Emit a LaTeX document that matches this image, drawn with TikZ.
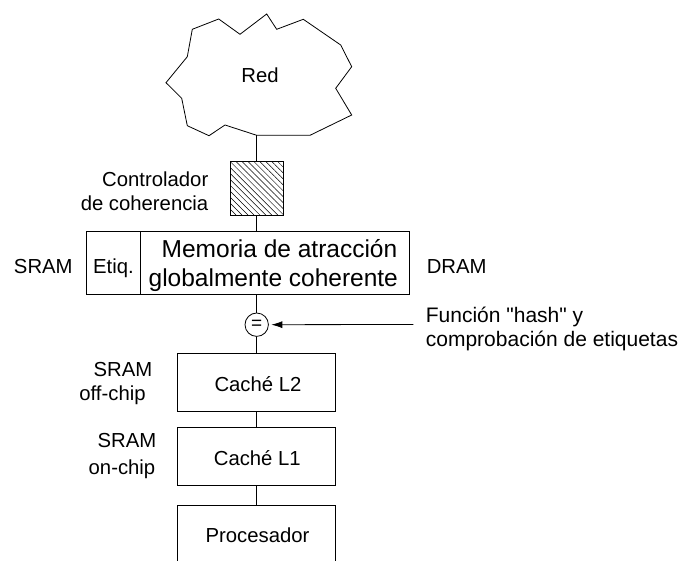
\documentclass[tikz,border=0pt]{standalone}
\usepackage{fontspec}
\setmainfont{Liberation Sans}[Ligatures=TeXOff]
\usetikzlibrary{patterns.meta,arrows.meta}
\begin{document}
\begin{tikzpicture}[x=1pt,y=-1pt,
  lbl/.style={inner sep=0pt,anchor=base,font=\fontsize{20.3}{24}\selectfont},
  biglbl/.style={inner sep=0pt,anchor=base,font=\fontsize{24.5}{28}\selectfont},
  boxy/.style={draw,line width=0.8pt,inner sep=0pt},
  wire/.style={line width=0.8pt}]
\useasboundingbox (0,0) rectangle (680,561);
% cloud
\coordinate (cb) at (256.7,135.3);
\draw[line width=0.8pt,line join=miter]
  (266.7,14) -- (276.7,29.3) -- (303.3,19.3) -- (340.7,45) -- (351.7,66.7)
  -- (335.7,88.3) -- (351.7,115) -- (310,135.3) -- (cb) -- (225,125)
  -- (209,135.7) -- (187.3,125.7) -- (181.7,98.3) -- (166,82.7) -- (187.3,56.7)
  -- (192.3,29.3) -- (218.7,19) -- (240,34.3) -- cycle;
\node[lbl] (red) at (260,83) {Red};
% controller
\node[boxy,minimum width=52.7pt,minimum height=53.3pt,
  pattern={Lines[angle=-45,distance=4.2pt,line width=0.5pt]}] (ctrl) at (256.7,188.5) {};
\node[lbl,anchor=base east] (ctl1) at (208.5,186.5) {Controlador};
\node[lbl,anchor=base east] (ctl2) at (208.5,211) {de coherencia};
% memory
\node[boxy,minimum width=53.3pt,minimum height=62.6pt] (etiq) at (113.3,263) {};
\node[boxy,minimum width=269.3pt,minimum height=62.6pt] (mem) at (274.6,263) {};
\node[lbl] (etiqt) at (113.5,273.5) {Etiq.};
\node[biglbl] (mem1) at (279.5,257.3) {Memoria de atracción};
\node[biglbl] (mem2) at (273.3,286.3) {globalmente coherente};
\node[lbl] (sramL) at (43.3,273.3) {SRAM};
\node[lbl] (dram) at (456.7,273.3) {DRAM};
% comparator
\node[draw,line width=0.8pt,circle,minimum size=23.4pt,inner sep=0pt,
  font=\fontsize{19}{20}\selectfont] (eq) at (256.7,324.7) {=};
\coordinate (hsrc) at (413.3,324.5);
\node[lbl,anchor=base west,font=\fontsize{21}{24}\selectfont] (h1) at (425.7,322.5) {Función "hash" y};
\node[lbl,anchor=base west,font=\fontsize{21}{24}\selectfont] (h2) at (425.7,346.7) {comprobación de etiquetas};
% caches
\node[boxy,minimum width=158pt,minimum height=58pt] (l2) at (256.2,382) {};
\node[lbl] (l2t) at (258,391.7) {Caché L2};
\node[boxy,minimum width=158pt,minimum height=58pt] (l1) at (256.2,456) {};
\node[lbl] (l1t) at (257.3,465) {Caché L1};
\node[inner sep=0pt,minimum width=158pt,minimum height=70pt] (proc) at (256.2,541) {};
\draw[wire] (proc.south west) -- (proc.north west) -- (proc.north east) -- (proc.south east);
\node[lbl] (proct) at (257.5,542.7) {Procesador};
\node[lbl] (s2a) at (123,376.5) {SRAM};
\node[lbl] (s2b) at (112.5,400.3) {off-chip};
\node[lbl] (s1a) at (127,447.5) {SRAM};
\node[lbl] (s1b) at (122,474.7) {on-chip};
% connectors
\draw[wire] (cb) -- (ctrl.north);
\draw[wire] (ctrl.south) -- (ctrl.south |- mem.north);
\draw[wire] (eq.north |- mem.south) -- (eq.north);
\draw[wire] (eq.south) -- (eq.south |- l2.north);
\draw[wire] (l2.south) -- (l1.north);
\draw[wire] (l1.south) -- (l1.south |- proc.north);
\draw[wire,-{Latex[length=11pt,width=7pt]},shorten >=2.5pt] (hsrc) -- (eq.east);
\end{tikzpicture}
\end{document}
